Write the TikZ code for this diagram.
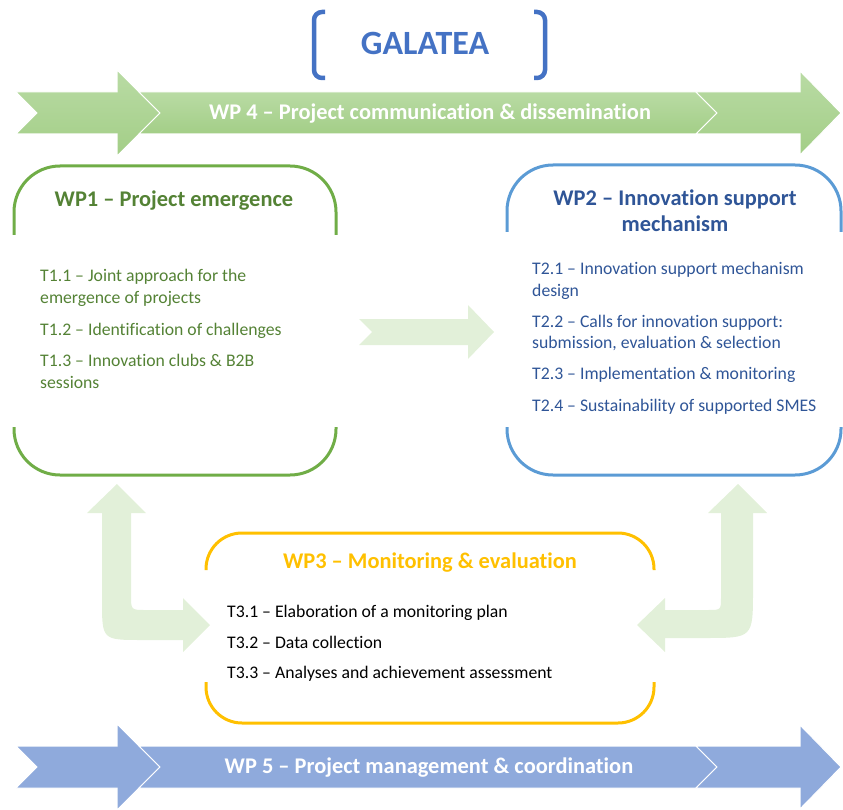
\documentclass[tikz,border=0pt]{standalone}
\usepackage{fontspec}
\setmainfont{Carlito}[Ligatures={TeX,NoCommon}]

\definecolor{galblue}{HTML}{4472C4}
\definecolor{wpfourtop}{HTML}{B9DBA4}
\definecolor{wpfourbot}{HTML}{A3CE87}
\definecolor{wpfive}{HTML}{8FAADC}
\definecolor{palegreen}{HTML}{E2F0D9}
\definecolor{wponeline}{HTML}{70AD47}
\definecolor{wponetext}{HTML}{548235}
\definecolor{wptwoline}{HTML}{5B9BD5}
\definecolor{wptwotext}{HTML}{2F5597}
\definecolor{wpthree}{HTML}{FFC000}

\begin{document}
\begin{tikzpicture}[x=1pt, y=-1pt,
		band/.style={draw=white, line width=1pt},
		wpbox/.style={line width=3pt, rounded corners=46pt},
		title/.style={anchor=base, inner sep=0pt, font=\fontsize{22.4}{26}\selectfont\bfseries},
		task/.style={anchor=base west, inner sep=0pt, font=\fontsize{17.7}{22}\selectfont}
	]
		\useasboundingbox (0,0) rectangle (843,810);
		
		% Title
		\draw[galblue, line width=4.5pt, rounded corners=8pt] (325,12) -- (314,12) -- (314,78) -- (325,78);
		\draw[galblue, line width=4.5pt, rounded corners=8pt] (534,12) -- (545,12) -- (545,78) -- (534,78);
		\node[galblue, anchor=base, inner sep=0pt, font=\fontsize{34}{40}\selectfont\bfseries] (galatea) at (425,55) {GALATEA};
		
		% WP 4 band
		\path[band, top color=wpfourtop, bottom color=wpfourbot] (16,92) -- (117,92) -- (117,70) -- (160,113) -- (117,156) -- (117,134) -- (16,134) -- (37,113) -- cycle;
		\path[band, top color=wpfourtop, bottom color=wpfourbot] (139,92) -- (696,92) -- (717,113) -- (696,134) -- (139,134) -- (160,113) -- cycle;
		\path[band, top color=wpfourtop, bottom color=wpfourbot] (696,92) -- (800,92) -- (800,71) -- (841,113) -- (800,155) -- (800,134) -- (696,134) -- (717,113) -- cycle;
		\node[title, white] (wpfour) at (430,120) {WP 4 -- Project communication \& dissemination};
		
		% WP1
		\draw[wpbox, wponeline] (14,235) -- (14,166) -- (336,166) -- (336,235);
		\draw[wpbox, wponeline] (14,427) -- (14,475) -- (336,475) -- (336,427);
		\node[title, wponetext] (wpone) at (174,207) {WP1 -- Project emergence};
		\node[task, wponetext] (t11) at (40,282) {T1.1 -- Joint approach for the};
		\node[task, wponetext] (t11b) at (40,304) {emergence of projects};
		\node[task, wponetext] (t12) at (40,335) {T1.2 -- Identification of challenges};
		\node[task, wponetext] (t13) at (40,366) {T1.3 -- Innovation clubs \& B2B};
		\node[task, wponetext] (t13b) at (40,388) {sessions};
		
		% WP2
		\draw[wpbox, wptwoline] (507,232) -- (507,165) -- (841,165) -- (841,232);
		\draw[wpbox, wptwoline] (507,427) -- (507,475) -- (841,475) -- (841,427);
		\node[title, wptwotext] (wptwo) at (675,206) {WP2 -- Innovation support};
		\node[title, wptwotext] (wptwob) at (675,232) {mechanism};
		\node[task, wptwotext] (t21) at (532,275) {T2.1 -- Innovation support mechanism};
		\node[task, wptwotext] (t21b) at (532,296) {design};
		\node[task, wptwotext] (t22) at (532,327) {T2.2 -- Calls for innovation support:};
		\node[task, wptwotext] (t22b) at (532,348) {submission, evaluation \& selection};
		\node[task, wptwotext] (t23) at (532,379) {T2.3 -- Implementation \& monitoring};
		\node[task, wptwotext] (t24) at (532,411) {T2.4 -- Sustainability of supported SMES};
		
		% Links between the WPs
		\fill[palegreen] (359,319) -- (468,319) -- (468,305) -- (494,332) -- (468,359) -- (468,345) -- (359,345) -- (372,332) -- cycle;
		\fill[palegreen] (117,484) -- (146,513) -- (131,513) -- (131,595) .. controls (131,610) .. (146,610) -- (183,610) -- (183,598) -- (210,625) -- (183,652) -- (183,640) -- (142,640) .. controls (102,640) .. (102,600) -- (102,513) -- (87,513) -- cycle;
		\fill[palegreen] (738,484) -- (767,513) -- (753,513) -- (753,590) .. controls (753,638) .. (705,638) -- (665,638) -- (665,652) -- (637,625) -- (665,598) -- (665,610) -- (708,610) .. controls (721,610) .. (721,597) -- (721,513) -- (708,513) -- cycle;
		
		% WP3
		\draw[wpbox, wpthree, rounded corners=36pt] (206,570) -- (206,533) -- (654,533) -- (654,570);
		\draw[wpbox, wpthree, rounded corners=36pt] (206,682) -- (206,723) -- (654,723) -- (654,682);
		\node[title, wpthree] (wpthr) at (430,568) {WP3 -- Monitoring \& evaluation};
		\node[task, black] (t31) at (227,617) {T3.1 -- Elaboration of a monitoring plan};
		\node[task, black] (t32) at (227,648) {T3.2 -- Data collection};
		\node[task, black] (t33) at (227,678) {T3.3 -- Analyses and achievement assessment};
		
		% WP 5 band
		\path[band, fill=wpfive] (16,746) -- (117,746) -- (117,724) -- (160,767) -- (117,810) -- (117,788) -- (16,788) -- (37,767) -- cycle;
		\path[band, fill=wpfive] (139,746) -- (696,746) -- (717,767) -- (696,788) -- (139,788) -- (160,767) -- cycle;
		\path[band, fill=wpfive] (696,746) -- (800,746) -- (800,725) -- (841,767) -- (800,809) -- (800,788) -- (696,788) -- (717,767) -- cycle;
		\node[title, white] (wpfive) at (429,773) {WP 5 -- Project management \& coordination};
		
	\end{tikzpicture}
\end{document}
